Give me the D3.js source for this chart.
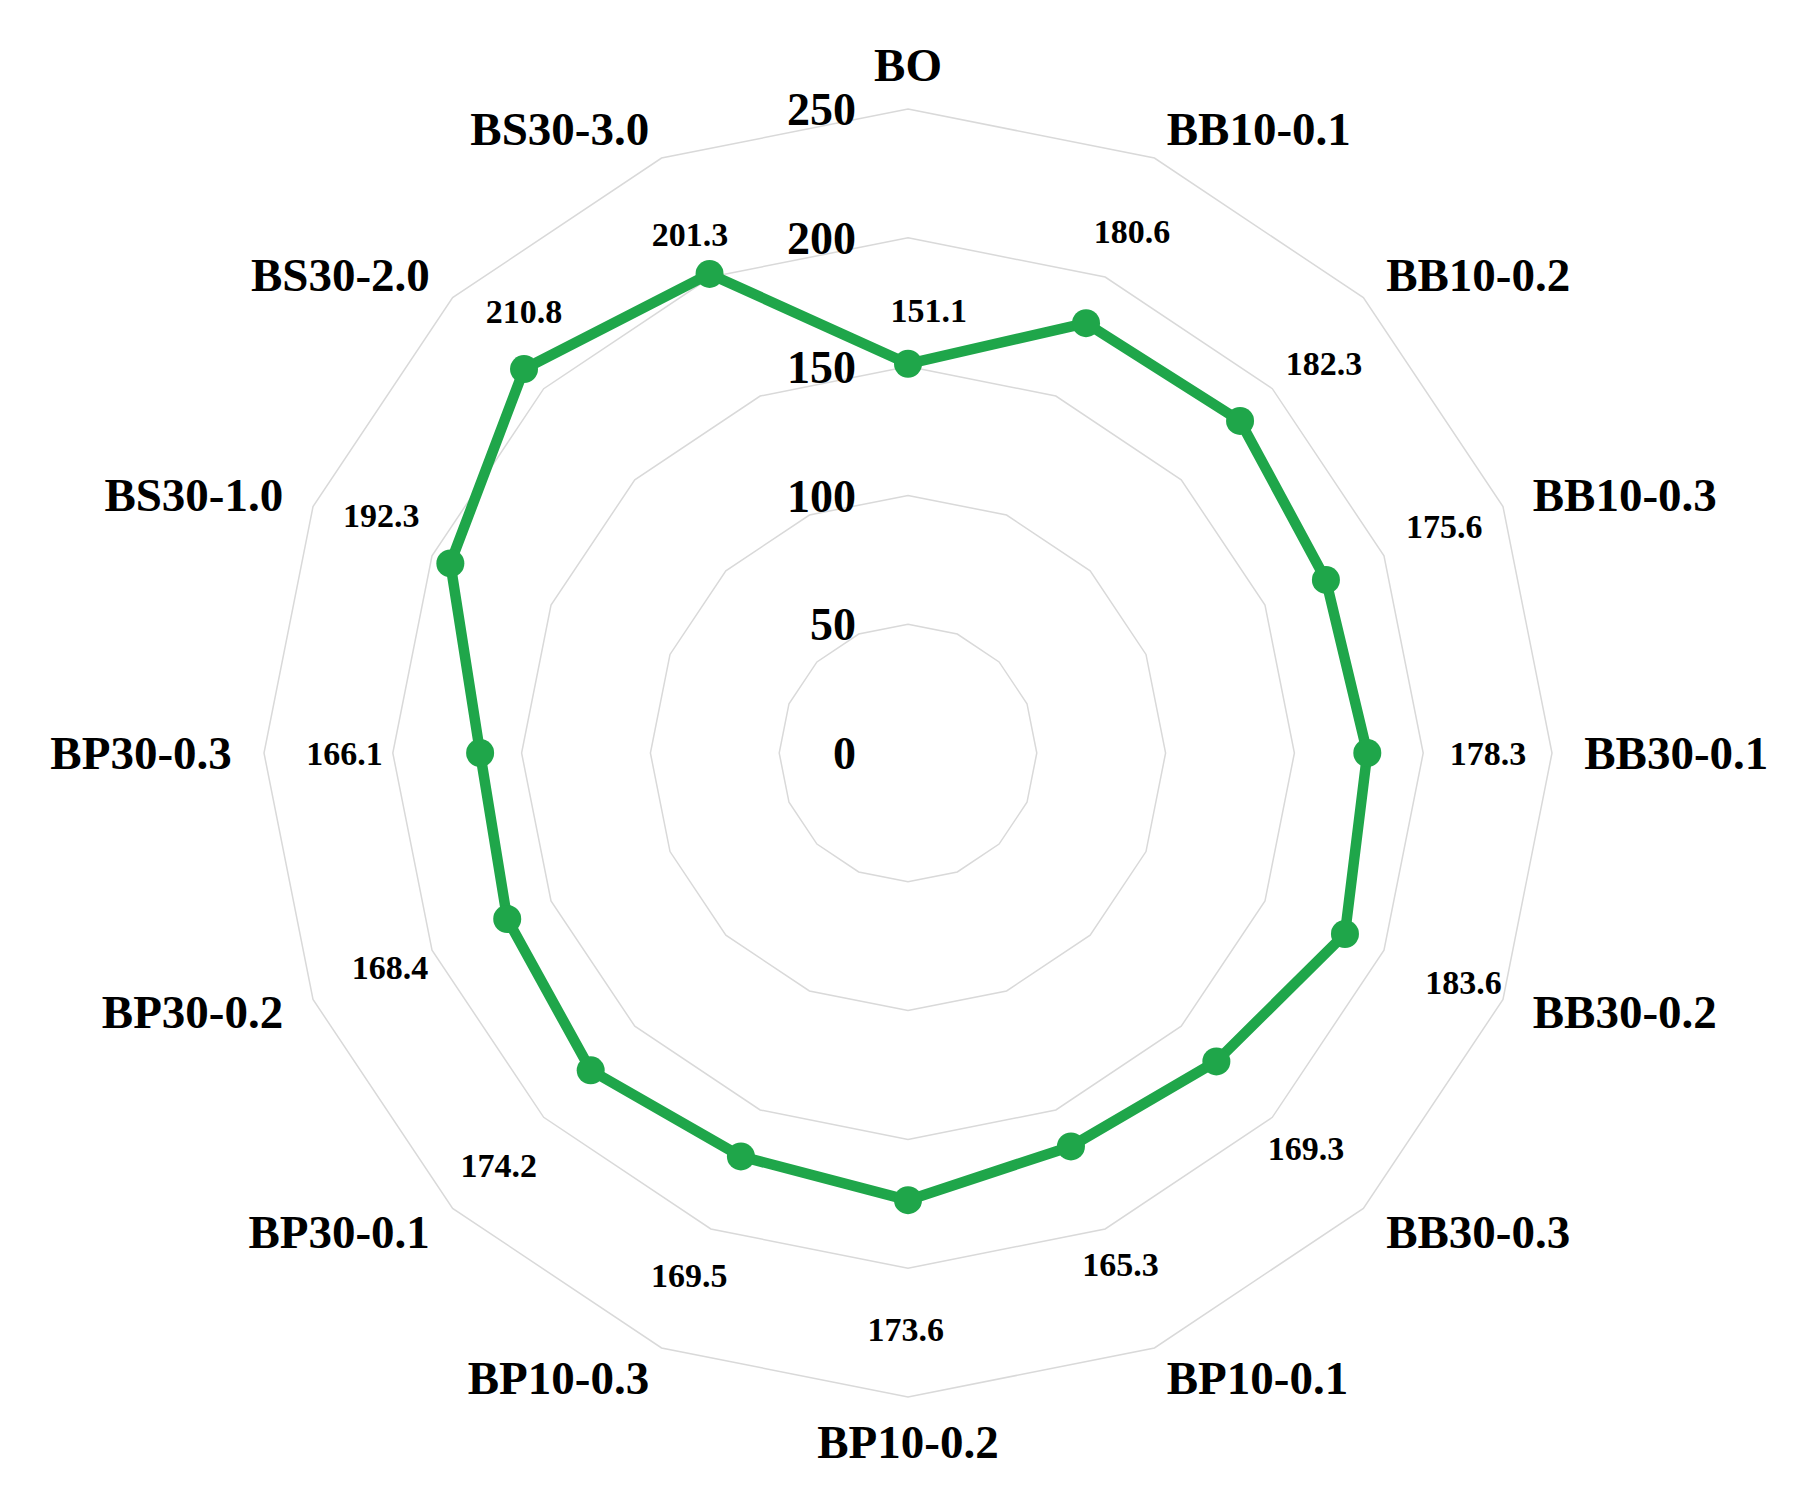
<!DOCTYPE html>
<html><head><meta charset="utf-8">
<script src="https://cdn.jsdelivr.net/npm/d3@7"></script>
<style>body{margin:0;background:#fff}</style></head>
<body><svg id="c" width="1796" height="1490"></svg>
<script>
const categories=["BO","BB10-0.1","BB10-0.2","BB10-0.3","BB30-0.1","BB30-0.2","BB30-0.3","BP10-0.1","BP10-0.2","BP10-0.3","BP30-0.1","BP30-0.2","BP30-0.3","BS30-1.0","BS30-2.0","BS30-3.0"];
const values=[151.1,180.6,182.3,175.6,178.3,183.6,169.3,165.3,173.6,169.5,174.2,168.4,166.1,192.3,210.8,201.3];
const ticks=[0,50,100,150,200,250];
// label offsets (px, in reference display units) from each point
const labelOffsets=[[18,-47],[40,-80],[73,-50],[103,-47],[105,0],[103,42],[78,75],[43,102],[-2,112],[-45,103],[-80,82],[-102,42],[-118,0],[-60,-42],[0,-50],[-17,-35]];

const S=1.15, cx=908, cy=753, R=644;
const svg=d3.select("#c");
const r=d3.scaleLinear().domain([0,250]).range([0,R]);
const n=categories.length;
const ang=i=>i*2*Math.PI/n;
const pt=(i,v)=>[cx+r(v)*Math.sin(ang(i)), cy-r(v)*Math.cos(ang(i))];
const font="'Liberation Serif','Times New Roman',serif";

ticks.filter(t=>t>0).forEach(t=>{
  svg.append("path").attr("d",d3.line()(d3.range(n).map(i=>pt(i,t)))+"Z")
   .attr("fill","none").attr("stroke","#d9d9d9").attr("stroke-width",1.5);
});
ticks.forEach(t=>{
  svg.append("text").attr("x",cx-52).attr("y",cy-r(t)).attr("dy","0.35em")
   .attr("text-anchor","end").attr("font-family",font).attr("font-weight","bold")
   .attr("font-size",46).attr("fill","#000").text(t);
});
const pts=values.map((v,i)=>pt(i,v));
svg.append("path").attr("d",d3.line()(pts)+"Z").attr("fill","none")
 .attr("stroke","#1fa64a").attr("stroke-width",10.5).attr("stroke-linejoin","round");
svg.selectAll("circle.m").data(pts).join("circle").attr("cx",d=>d[0]).attr("cy",d=>d[1])
 .attr("r",14).attr("fill","#1fa64a");
values.forEach((v,i)=>{
  const p=pts[i],o=labelOffsets[i];
  svg.append("text").attr("x",p[0]+o[0]*S).attr("y",p[1]+o[1]*S).attr("dy","0.35em")
   .attr("text-anchor","middle").attr("font-family",font).attr("font-weight","bold")
   .attr("font-size",34).text(v.toFixed(1));
});
categories.forEach((c,i)=>{
  const a=ang(i), s=Math.sin(a), co=Math.cos(a);
  const rr=R*1.05;
  let x=cx+rr*s, y=cy-rr*co;
  let anchor=Math.abs(s)<0.01?"middle":(s>0?"start":"end");
  if(Math.abs(s)<0.01) y+= co>0? -12: 12;
  svg.append("text").attr("x",x).attr("y",y).attr("dy","0.35em").attr("text-anchor",anchor)
   .attr("font-family",font).attr("font-weight","bold").attr("font-size",47).text(c);
});
</script></body></html>
